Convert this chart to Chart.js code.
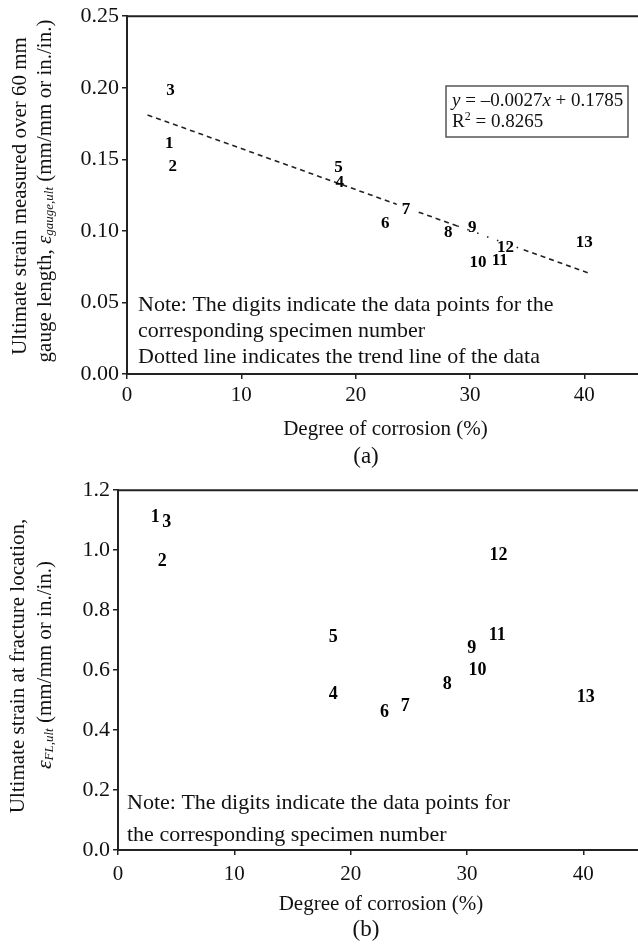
<!DOCTYPE html>
<html>
<head>
<meta charset="utf-8">
<script src="https://cdn.jsdelivr.net/npm/chart.js@4.4.1/dist/chart.umd.min.js"></script>
<style>
  html, body { margin: 0; padding: 0; background: #fff; overflow: hidden; }
  #wrap { position: relative; width: 638px; height: 946px; }
  .box { position: absolute; left: 0; width: 638px; }
</style>
</head>
<body>
<div id="wrap">
  <div class="box" style="top:0;height:474px"><canvas id="idChartGauge" width="638" height="474"></canvas></div>
  <div class="box" style="top:474px;height:472px"><canvas id="idChartFracture" width="638" height="472"></canvas></div>
</div>
<script>
    // specimen numbers, used as the point labels
    const specimen = ['1', '2', '3', '4', '5', '6', '7', '8', '9', '10', '11', '12', '13'];

    // (a) strain over 60 mm gauge length
    const corrosion_a = [3.7, 4.0, 3.8, 18.6, 18.5, 22.6, 24.4, 28.1, 30.2, 30.7, 32.6, 33.1, 40.0];
    const strain_gauge = [0.161, 0.145, 0.198, 0.134, 0.144, 0.105, 0.115, 0.099, 0.102, 0.0775, 0.079, 0.088, 0.0915];

    // (a) trend line y = -0.0027x + 0.1785 as drawn
    const trend_x = [1.8, 28.9, 34.7, 40.4];
    const trend_y = [0.181, 0.1034, 0.0868, 0.0705];

    // (b) strain at fracture location
    const corrosion_b = [3.2, 3.8, 4.2, 18.5, 18.5, 22.9, 24.7, 28.3, 30.4, 30.9, 32.6, 32.7, 40.2];
    const strain_fl = [1.108, 0.964, 1.092, 0.518, 0.708, 0.459, 0.479, 0.551, 0.672, 0.600, 0.715, 0.984, 0.508];

    // tick labels
    const x_ticks = [0, 10, 20, 30, 40];
    const y_ticks_a = [0, 0.05, 0.10, 0.15, 0.20, 0.25];
    const y_ticks_b = [0, 0.2, 0.4, 0.6, 0.8, 1.0, 1.2];

    const serif = "'Liberation Serif', 'DejaVu Serif', serif";
    Chart.defaults.font.family = serif;
    Chart.defaults.color = '#000';

    function drawRich(ctx, parts, x, y) {
        let w = 0;
        parts.forEach(p => { ctx.font = p[1]; w += ctx.measureText(p[0]).width; });
        let cx = x - w / 2;
        parts.forEach(p => {
            ctx.font = p[1];
            ctx.fillText(p[0], cx, y + (p[2] || 0));
            cx += ctx.measureText(p[0]).width;
        });
    }

    // specimen digits at each data point
    var digitLabels = {
        id: 'digitLabels',
        afterDatasetsDraw(chart, args, opts) {
            const ctx = chart.ctx;
            const meta = chart.getDatasetMeta(0);
            ctx.save();
            ctx.font = 'bold ' + opts.size + 'px ' + serif;
            ctx.textAlign = 'center';
            ctx.textBaseline = 'middle';
            meta.data.forEach((pt, i) => {
                let txt = specimen[i];
                if ((opts.mask || []).includes(txt)) {
                    let w = ctx.measureText(txt).width;
                    ctx.fillStyle = '#fff';
                    ctx.fillRect(pt.x - w / 2 - 5, pt.y - 8, w + 10, 16);
                }
                ctx.fillStyle = '#000';
                ctx.fillText(txt, pt.x, pt.y);
            });
            ctx.restore();
        }
    };

    // frame top line, titles, notes
    var decor = {
        id: 'decor',
        afterDraw(chart, args, o) {
            const ctx = chart.ctx;
            const a = chart.chartArea;
            ctx.save();
            ctx.strokeStyle = '#222';
            ctx.lineWidth = 2;
            ctx.beginPath();
            ctx.moveTo(a.left - 1, a.top);
            ctx.lineTo(a.right, a.top);
            ctx.stroke();

            ctx.fillStyle = '#111';
            ctx.textBaseline = 'middle';
            ctx.textAlign = 'left';

            // y title, rotated
            o.yTitle.forEach(line => {
                ctx.save();
                ctx.translate(line.x, line.y);
                ctx.rotate(-Math.PI / 2);
                drawRich(ctx, line.parts, 0, 0);
                ctx.restore();
            });

            // x title and caption
            drawRich(ctx, [['Degree of corrosion (%)', '21px ' + serif]], (a.left + a.right) / 2 + 3, o.xTitleY);
            drawRich(ctx, [[o.caption, '23px ' + serif]], 366, o.captionY);

            // note
            ctx.font = '22px ' + serif;
            o.note.forEach((t, i) => ctx.fillText(t, a.left + o.noteDx, o.noteY[i]));

            if (o.eq) {
                ctx.strokeStyle = '#555';
                ctx.lineWidth = 1.5;
                ctx.strokeRect(446, 86, 182, 51);
                let it = 'italic 19px ' + serif, rm = '19px ' + serif;
                let parts = [['y', it], [' = \u20130.0027', rm], ['x', it], [' + 0.1785', rm]];
                let cx = 452;
                parts.forEach(p => { ctx.font = p[1]; ctx.fillText(p[0], cx, 101); cx += ctx.measureText(p[0]).width; });
                cx = 452;
                parts = [['R', rm, 0], ['2', '12px ' + serif, -5], [' = 0.8265', rm, 0]];
                parts.forEach(p => { ctx.font = p[1]; ctx.fillText(p[0], cx, 122 + p[2]); cx += ctx.measureText(p[0]).width; });
            }
            ctx.restore();
        }
    };

    function axisOptions(yMin, yMax, yTicks, digits, yWidth, xHeight, xPad) {
        return {
            x: {
                type: 'linear',
                min: 0,
                max: 44.7,
                afterBuildTicks: s => { s.ticks = x_ticks.map(v => ({ value: v })); },
                afterFit: s => { s.height = xHeight; },
                ticks: { font: { size: 21 }, color: '#111', padding: xPad, maxRotation: 0 },
                grid: { drawOnChartArea: false, drawTicks: true, tickLength: 5, color: '#222', lineWidth: 1.5 },
                border: { display: true, color: '#222', width: 2 }
            },
            y: {
                min: yMin,
                max: yMax,
                afterBuildTicks: s => { s.ticks = yTicks.map(v => ({ value: v })); },
                afterFit: s => { s.width = yWidth; },
                ticks: { font: { size: 22 }, color: '#111', padding: 3, callback: v => v.toFixed(digits) },
                grid: { drawOnChartArea: false, drawTicks: true, tickLength: 5, color: '#222', lineWidth: 1.5 },
                border: { display: true, color: '#222', width: 2 }
            }
        };
    }

    var ctx1 = document.getElementById('idChartGauge').getContext('2d');
    var idChartGauge = new Chart(ctx1, {
        type: 'scatter',
        data: {
            datasets: [{
                label: 'Specimen',
                data: corrosion_a.map((x, i) => ({ x: x, y: strain_gauge[i] })),
                pointRadius: 0
            }, {
                label: 'Trend line',
                type: 'line',
                data: trend_x.map((x, i) => ({ x: x, y: trend_y[i] })),
                borderColor: '#222',
                borderWidth: 1.6,
                borderDash: [5, 4],
                pointRadius: 0,
                fill: false,
                segment: {
                    borderDash: c => c.p0DataIndex === 1 ? [1.5, 9] : [5, 4]
                }
            }]
        },
        options: {
            responsive: false,
            animation: false,
            layout: { padding: { top: 16, left: 0, right: 0, bottom: 0 } },
            scales: axisOptions(0, 0.25, y_ticks_a, 2, 127, 100, 4),
            plugins: {
                legend: { display: false },
                tooltip: { enabled: false },
                digitLabels: { size: 17, mask: ['7'] },
                decor: {
                    yTitle: [
                        { x: 20, y: 196, parts: [['Ultimate strain measured over 60 mm', '21px ' + serif]] },
                        { x: 45, y: 191, parts: [['gauge length, ', '21px ' + serif], ['\u03b5', 'italic 21px ' + serif],
                            ['gauge,ult', 'italic 13px ' + serif, 5], [' (mm/mm or in./in.)', '21px ' + serif]] }
                    ],
                    xTitleY: 429,
                    caption: '(a)',
                    captionY: 457,
                    note: ['Note: The digits indicate the data points for the',
                           'corresponding specimen number',
                           'Dotted line indicates the trend line of the data'],
                    noteDx: 11,
                    noteY: [305, 331, 357],
                    eq: true
                }
            }
        },
        plugins: [digitLabels, decor]
    });

    var ctx2 = document.getElementById('idChartFracture').getContext('2d');
    var idChartFracture = new Chart(ctx2, {
        type: 'scatter',
        data: {
            datasets: [{
                label: 'Specimen',
                data: corrosion_b.map((x, i) => ({ x: x, y: strain_fl[i] })),
                pointRadius: 0
            }]
        },
        options: {
            responsive: false,
            animation: false,
            layout: { padding: { top: 10, left: 0, right: 0, bottom: 0 } },
            scales: axisOptions(0, 1.2, y_ticks_b, 1, 118, 96, 7),
            plugins: {
                legend: { display: false },
                tooltip: { enabled: false },
                digitLabels: { size: 18 },
                decor: {
                    yTitle: [
                        { x: 18, y: 192, parts: [['Ultimate strain at fracture location,', '21px ' + serif]] },
                        { x: 45, y: 191, parts: [['\u03b5', 'italic 22px ' + serif], ['FL,ult', 'italic 13px ' + serif, 5],
                            [' (mm/mm or in./in.)', '21px ' + serif]] }
                    ],
                    xTitleY: 430,
                    caption: '(b)',
                    captionY: 456,
                    note: ['Note: The digits indicate the data points for',
                           'the corresponding specimen number'],
                    noteDx: 9,
                    noteY: [329, 361],
                    eq: false
                }
            }
        },
        plugins: [digitLabels, decor]
    });
</script>
</body>
</html>
